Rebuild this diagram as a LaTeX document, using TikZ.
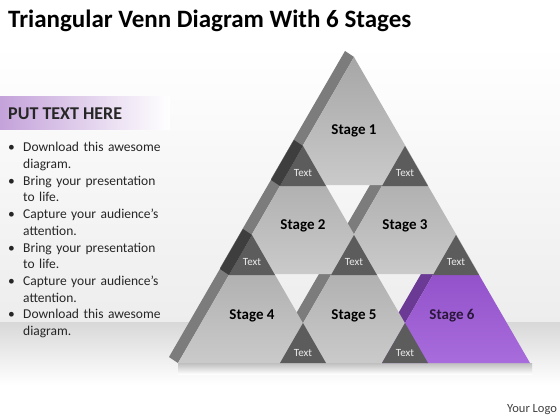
\documentclass[tikz,border=0pt]{standalone}
\usepackage{fontspec}
\setmainfont{Carlito}
\definecolor{facetop}{HTML}{A6A6A6}
\definecolor{facebottom}{HTML}{CACACA}
\definecolor{sidegrey}{HTML}{7C7C7C}
\definecolor{sidedark}{HTML}{3E3E3E}
\definecolor{overlapgrey}{HTML}{5C5C5C}
\definecolor{purpletop}{HTML}{8A46C2}
\definecolor{purplebottom}{HTML}{A86CDC}
\definecolor{purpleside}{HTML}{6A3A94}
\definecolor{hdrpurple}{HTML}{C4A2DA}
\definecolor{bandgrey}{HTML}{D8D8D8}
\newcommand{\stagetri}[2]{(#1,#2) -- ++(-74,128) -- ++(148,0) -- cycle}
\newcommand{\overlaptri}[2]{(#1,#2) -- ++(-23,40) -- ++(46,0) -- cycle}
\newcommand{\sidestrip}[2]{(#1,#2) -- ++(-74,128) -- ++(-9,-6) -- ++(74,-128) -- cycle}
\newcommand{\darkstrip}[2]{(#1,#2) -- ++(-23,40) -- ++(-9,-6) -- ++(23,-40) -- cycle}
\newcommand{\bitem}[1]{\par\hangindent=15pt\hangafter=1\noindent\makebox[15pt][l]{\textbullet}#1\par}

\begin{document}
\begin{tikzpicture}[x=1pt,y=-1pt,
    face/.style={top color=facetop, bottom color=facebottom},
    purpleface/.style={top color=purpletop, bottom color=purplebottom},
    stagelabel/.style={font=\fontsize{15}{17}\selectfont\bfseries, text=black, inner sep=0pt},
    textlabel/.style={font=\fontsize{11}{13}\selectfont, text=white!92!black, inner sep=0pt}]
  % slide background
  \useasboundingbox (0,0) rectangle (560,420);
  \fill[white] (0,0) rectangle (560,420);
  \shade[top color=white, bottom color=black!7] (0,45) rectangle (560,322);
  \shade[top color=bandgrey, bottom color=white] (0,322) rectangle (560,385);
  % title and text panel
  \node[anchor=base west, inner sep=0pt, font=\fontsize{25}{29}\selectfont\bfseries] (title) at (8,28) {Triangular Venn Diagram With 6 Stages};
  \shade[left color=hdrpurple, right color=white] (0,97) rectangle (170,129);
  \node[anchor=base west, inner sep=0pt, font=\fontsize{18}{21}\selectfont\bfseries, text=black!85] (header) at (8,119) {PUT TEXT HERE};
  \node[anchor=north west, inner sep=0pt, text width=170pt, align=left,
        font=\fontsize{13.5}{16.7}\selectfont, text=black!85] (bullets) at (8,135) {%
    \bitem{Download this awesome\newline diagram.}
    \bitem{Bring your presentation\newline to life.}
    \bitem{Capture your audience’s\newline attention.}
    \bitem{Bring your presentation\newline to life.}
    \bitem{Capture your audience’s\newline attention.}
    \bitem{Download this awesome\newline diagram.}};
  % shadow under the pyramid
  \shade[top color=black!30, bottom color=white, opacity=.8] (178,363) rectangle (532,374);
  % side faces
  \fill[sidegrey] \sidestrip{354}{57};
  \fill[sidegrey] \sidestrip{303}{146};
  \fill[sidegrey] \sidestrip{405}{146};
  \fill[sidegrey] \sidestrip{252}{235};
  \fill[sidegrey] \sidestrip{354}{235};
  \fill[purpleside] \sidestrip{456}{235};
  % stage faces
  \shade[face] \stagetri{252}{235};
  \shade[face] \stagetri{354}{235};
  \shade[purpleface] \stagetri{456}{235};
  \shade[face] \stagetri{303}{146};
  \shade[face] \stagetri{405}{146};
  \shade[face] \stagetri{354}{57};
  % overlaps
  \fill[overlapgrey] \overlaptri{303}{146};
  \fill[overlapgrey] \overlaptri{405}{146};
  \fill[overlapgrey] \overlaptri{252}{235};
  \fill[overlapgrey] \overlaptri{354}{235};
  \fill[overlapgrey] \overlaptri{456}{235};
  \fill[overlapgrey] \overlaptri{303}{323};
  \fill[overlapgrey] \overlaptri{405}{323};
  \fill[sidedark] \darkstrip{303}{146};
  \fill[sidedark] \darkstrip{252}{235};
  % labels
  \node[stagelabel] (s1) at (354,131) {Stage 1};
  \node[stagelabel] (s2) at (303,226) {Stage 2};
  \node[stagelabel] (s3) at (405,226) {Stage 3};
  \node[stagelabel] (s4) at (252,316) {Stage 4};
  \node[stagelabel] (s5) at (354,316) {Stage 5};
  \node[stagelabel, text=purpleside!40!black] (s6) at (452,316) {Stage 6};
  \node[textlabel] (t12) at (303,173) {Text};
  \node[textlabel] (t13) at (405,173) {Text};
  \node[textlabel] (t24) at (252,262) {Text};
  \node[textlabel] (t235) at (354,262) {Text};
  \node[textlabel] (t36) at (456,262) {Text};
  \node[textlabel] (t45) at (303,353) {Text};
  \node[textlabel] (t56) at (405,353) {Text};
  \node[anchor=base west, inner sep=0pt, font=\fontsize{12.5}{15}\selectfont, text=black!75] (logo) at (507,412) {Your Logo};
\end{tikzpicture}
\end{document}
